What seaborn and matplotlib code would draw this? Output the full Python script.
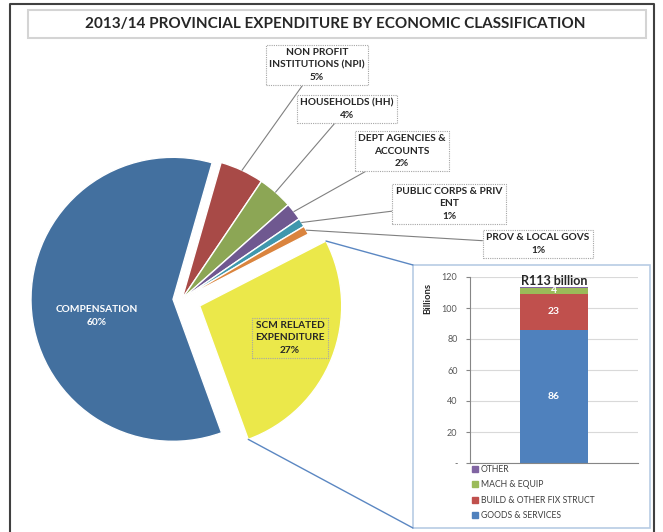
import matplotlib
matplotlib.use("Agg")
import matplotlib.pyplot as plt
from matplotlib.patches import Rectangle, Patch
import numpy as np
import seaborn as sns

sns.set_style("white")
plt.rcParams["font.family"] = ["Lato", "DejaVu Sans"]

title = "2013/14 PROVINCIAL EXPENDITURE BY ECONOMIC CLASSIFICATION"

# pie slices, clockwise starting at the top edge of compensation
pie_labels = ["NON PROFIT\nINSTITUTIONS (NPI)", "HOUSEHOLDS (HH)", "DEPT AGENCIES &\nACCOUNTS",
              "PUBLIC CORPS & PRIV\nENT", "PROV & LOCAL GOVS", "SCM RELATED\nEXPENDITURE", "COMPENSATION"]
pie_shares = [5, 4, 2, 1, 1, 27, 60]
pie_colors = ["#A84A47", "#8CA655", "#6F5890", "#3F97AD", "#DA843E", "#EBE84A", "#43709F"]

# bar of the SCM slice (billions)
bar_title = "R113 billion"
bar_segments = ["GOODS & SERVICES", "BUILD & OTHER FIX STRUCT", "MACH & EQUIP", "OTHER"]
bar_values = [86, 23, 4, 0.3]
bar_colors = ["#4F81BD", "#C0504D", "#9BBB59", "#8064A2"]
bar_ticks = [0, 20, 40, 60, 80, 100, 120]
bar_ticklabels = ["-", "20", "40", "60", "80", "100", "120"]

W, H = 663, 532
fig = plt.figure(figsize=(W / 100, H / 100), dpi=100)
ax = fig.add_axes([0, 0, 1, 1])

# frame + title box
ax.plot([10, 10, 654, 654], [0, H - 4, H - 4, 0], color="#404040", lw=1.5)
ax.add_patch(Rectangle((28, H - 38), 618, 28, fc="white", ec="#D4D4D4", lw=1.5))
ax.text(335, H - 24, title, ha="center", va="center", fontsize=11, fontweight="bold", color="#262626")

explode = [0, 0, 0, 0, 0, 19, 9]
wedges, _ = ax.pie(pie_shares, colors=pie_colors, explode=explode, startangle=74, counterclock=False,
                   center=(182, H - 299), radius=142, wedgeprops=dict(edgecolor="white", linewidth=1))
ax.set_xlim(0, W)
ax.set_ylim(0, H)
ax.set_aspect("equal")
ax.axis("off")

box_pos = [(317, 65), (347, 109), (402, 151), (449, 204), (538, 244)]
dotted = dict(boxstyle="square,pad=0.35", fc="white", ec="#A6A6A6", ls=(0, (1, 1)), lw=0.8)
for w, lab, share, (bx, by) in zip(wedges[:5], pie_labels[:5], pie_shares[:5], box_pos):
    mid = np.deg2rad((w.theta1 + w.theta2) / 2)
    cx, cy = w.center
    ax.annotate(lab + "\n" + str(share) + "%", xy=(cx + w.r * np.cos(mid), cy + w.r * np.sin(mid)),
                xytext=(bx, H - by), ha="center", va="center", fontsize=7.3, fontweight="bold",
                color="#262626", linespacing=1.45, bbox=dotted,
                arrowprops=dict(arrowstyle="-", color="#808080", lw=0.8, shrinkA=0, shrinkB=0))

ax.text(290, H - 338, pie_labels[5] + "\n" + str(pie_shares[5]) + "%", ha="center", va="center",
        fontsize=7.3, fontweight="bold", color="#262626", linespacing=1.45, bbox=dict(dotted, fc="none"))
ax.text(97, H - 316, pie_labels[6] + "\n" + str(pie_shares[6]) + "%", ha="center", va="center",
        fontsize=7.3, fontweight="bold", color="white", linespacing=1.45)

# lines from the SCM slice to the bar panel
scm = wedges[5]
cx, cy = scm.center
for ang, (px, py) in [(scm.theta2, (413, 265)), (scm.theta1, (413, 528))]:
    a = np.deg2rad(ang)
    ax.plot([cx + scm.r * np.cos(a), px], [cy + scm.r * np.sin(a), H - py], color="#5B87C2", lw=1)
ax.add_patch(Rectangle((413, H - 528), 237, 263, fc="white", ec="#B8CCE4", lw=1.2))

# stacked bar
axb = fig.add_axes([470 / W, (H - 463) / H, 168 / W, 186 / H])
axb.patch.set_alpha(0)
bottom = 0
for seg, val, col in zip(bar_segments, bar_values, bar_colors):
    sns.barplot(x=[bar_title], y=[val], bottom=bottom, color=col, width=0.8, errorbar=None,
                saturation=1, linewidth=0, ax=axb)
    if val >= 1:
        axb.bar_label(axb.containers[-1], labels=[f"{val:.0f}"], label_type="center",
                      color="white", fontsize=7.5, fontweight="bold")
    bottom += val
axb.set_xlim(-1, 1)
axb.set_ylim(0, 120)
axb.set_yticks(bar_ticks)
axb.set_yticklabels(bar_ticklabels)
axb.set_xticks([])
axb.set_xlabel("")
axb.set_ylabel("")
axb.yaxis.grid(True, color="#D9D9D9", lw=0.8)
axb.set_axisbelow(True)
for s in ["top", "right"]:
    axb.spines[s].set_visible(False)
for s in ["left", "bottom"]:
    axb.spines[s].set_color("#868686")
    axb.spines[s].set_linewidth(0.8)
axb.tick_params(axis="y", left=True, length=3, width=0.8, color="#868686", labelsize=6.5,
                labelcolor="#595959", pad=6)
axb.text(0, 117.5, bar_title, ha="center", va="center", fontsize=9, fontweight="bold", color="#262626")
fig.text(428 / W, (H - 298) / H, "Billions", rotation=90, ha="center", va="center",
         fontsize=6.8, fontweight="bold", color="#262626")

handles = [Patch(color=c) for c in bar_colors[::-1]]
fig.legend(handles, bar_segments[::-1], loc="upper left", bbox_to_anchor=(472 / W, (H - 465) / H),
           frameon=False, fontsize=6.2, handlelength=0.7, handleheight=0.7, handletextpad=0.3,
           labelspacing=0.75, borderpad=0, borderaxespad=0, labelcolor="#404040")

fig.savefig("out.png", dpi=100)
